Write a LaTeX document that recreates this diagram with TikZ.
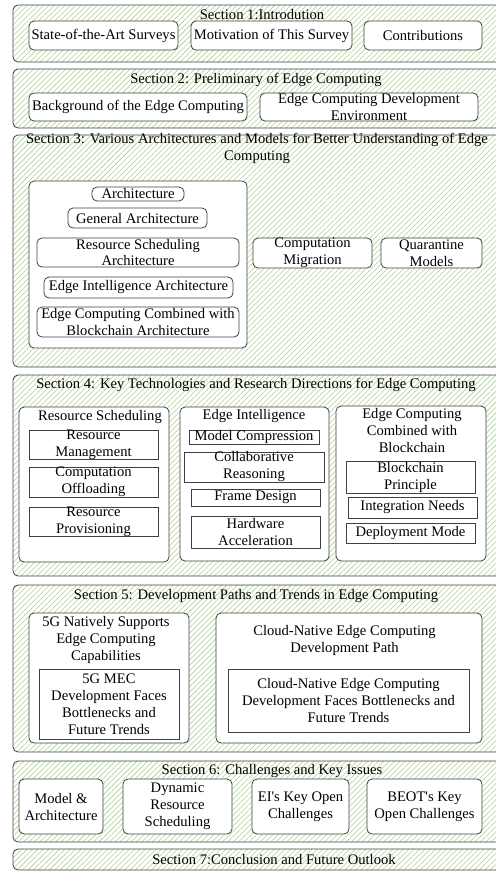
\documentclass[tikz,border=0pt]{standalone}
\usepackage{fontspec}
\setmainfont{Liberation Serif}
\usetikzlibrary{patterns.meta}
\definecolor{hatch}{RGB}{169,209,142}
\definecolor{edge}{RGB}{64,64,64}

\begin{document}
\begin{tikzpicture}[x=1pt,y=-1pt,
    font=\fontsize{14.6}{17}\selectfont,
    section/.style={draw=edge,line width=0.8pt,rounded corners=5pt,
        pattern={Lines[angle=45,distance=3.8pt,line width=0.55pt]},pattern color=hatch},
    group/.style={draw=edge,line width=0.8pt,fill=white,rounded corners=5pt},
    rbox/.style={draw=edge,line width=0.8pt,fill=white,rounded corners=5pt,align=center,inner xsep=0pt,inner ysep=-2pt},
    sbox/.style={draw=edge,line width=0.8pt,fill=white,align=center,inner xsep=0pt,inner ysep=-2pt},
    sz/.style 2 args={minimum width=#1pt,minimum height=#2pt},
    title/.style={align=center,inner sep=0pt}]
    \useasboundingbox (0,0) rectangle (496,871);
    \clip (0,0) rectangle (496,871);

    % Section 1
    \draw [section] (13,5) rectangle (510,62);
    \node [title] (t1) at(262,15) {Section 1:Introdution};
    \node [rbox,sz={149}{29}] (survey) at(103.5,35.5) {State-of-the-Art Surveys};
    \node [rbox,sz={161}{29}] (motiv) at(271.5,35.5) {Motivation of This Survey};
    \node [rbox,sz={118}{29}] (contrib) at(423,35.5) {Contributions};

    % Section 2
    \draw [section] (13,69) rectangle (510,128);
    \node [title] (t2) at(256,80) {Section 2: Preliminary of Edge Computing};
    \node [rbox,sz={218}{28}] (backgr) at(138,107) {Background of the Edge Computing};
    \node [rbox,sz={218}{28}] (devenv) at(369,107) {Edge Computing Development\\Environment};

    % Section 3
    \draw [section] (13,135) rectangle (510,367);
    \node [title] (t3) at(257,148.5) {Section 3: Various Architectures and Models for Better Understanding of Edge\\Computing};
    \draw [group] (29,181) rectangle (247,348);
    \node [rbox,sz={92}{14}] (arch) at(138,194) {Architecture};
    \node [rbox,sz={139}{20}] (genarch) at(137.5,218) {General Architecture};
    \node [rbox,sz={202}{29}] (rsarch) at(138,252.5) {Resource Scheduling\\Architecture};
    \node [rbox,sz={189}{21}] (eiarch) at(138.5,287.5) {Edge Intelligence Architecture};
    \node [rbox,sz={202}{30}] (bcarch) at(138,322) {Edge Computing Combined with\\Blockchain Architecture};
    \node [rbox,sz={119}{30}] (migr) at(312.5,253) {Computation\\Migration};
    \node [rbox,sz={101}{30}] (quar) at(431.5,253) {Quarantine\\Models};

    % Section 4
    \draw [section] (13,375) rectangle (510,576);
    \node [title] (t4) at(256,385) {Section 4: Key Technologies and Research Directions for Edge Computing};
    \draw [group] (19,407) rectangle (169,562);
    \node [title] (rs) at(100,417) {Resource Scheduling};
    \node [sbox,sz={129}{29}] (resman) at(93.5,444.5) {Resource\\Management};
    \node [sbox,sz={129}{30}] (offload) at(93.5,482) {Computation\\Offloading};
    \node [sbox,sz={129}{29}] (resprov) at(93.5,521.5) {Resource\\Provisioning};
    \draw [group] (180,407) rectangle (329,561);
    \node [title] (ei) at(254,416) {Edge Intelligence};
    \node [sbox,sz={130}{14}] (compr) at(254,437) {Model Compression};
    \node [sbox,sz={140}{30}] (collab) at(254,467) {Collaborative\\Reasoning};
    \node [sbox,sz={129}{17}] (frame) at(255.5,497.5) {Frame Design};
    \node [sbox,sz={129}{32}] (hwacc) at(255.5,532) {Hardware\\Acceleration};
    \draw [group] (336,406) rectangle (486,561);
    \node [title] (ecb) at(412,430.5) {Edge Computing\\Combined with\\Blockchain};
    \node [sbox,sz={129}{32}] (bcprin) at(410.5,477) {Blockchain\\Principle};
    \node [sbox,sz={129}{21}] (integ) at(412.5,507.5) {Integration Needs};
    \node [sbox,sz={129}{20}] (deploy) at(410.5,533) {Deployment Mode};

    % Section 5
    \draw [section] (13,585) rectangle (510,752);
    \node [title] (t5) at(256,596) {Section 5: Development Paths and Trends in Edge Computing};
    \draw [group] (29,613) rectangle (189,743);
    \node [title] (fiveg) at(106,640) {5G Natively Supports\\Edge Computing\\Capabilities};
    \node [sbox,sz={140}{70}] (mec) at(109,704) {5G MEC\\Development Faces\\Bottlenecks and\\Future Trends};
    \draw [group] (216,613) rectangle (482,743);
    \node [title] (cloud) at(344.5,640) {Cloud-Native Edge Computing\\Development Path};
    \node [sbox,sz={241}{63}] (cntrend) at(348.5,700.5) {Cloud-Native Edge Computing\\Development Faces Bottlenecks and\\Future Trends};

    % Section 6
    \draw [section] (13,761) rectangle (510,842);
    \node [title] (t6) at(272,771) {Section 6: Challenges and Key Issues};
    \node [rbox,sz={84}{55}] (model) at(61,806.5) {Model \&\\Architecture};
    \node [rbox,sz={109}{55}] (dyn) at(177.5,806.5) {Dynamic\\Resource\\Scheduling};
    \node [rbox,sz={97}{55}] (eiopen) at(300.5,806.5) {EI\textquotesingle s Key Open\\Challenges};
    \node [rbox,sz={115}{55}] (beot) at(424.5,806.5) {BEOT\textquotesingle s Key\\Open Challenges};

    % Section 7
    \draw [section] (13,849) rectangle (510,870);
    \node [title] (t7) at(274,860) {Section 7:Conclusion and Future Outlook};
\end{tikzpicture}
\end{document}
